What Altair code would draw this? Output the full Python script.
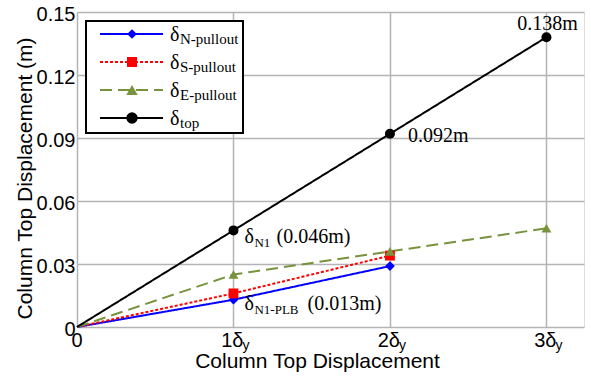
import altair as alt
import pandas as pd

# ---------------- data ----------------
series_names = ["N-pullout", "S-pullout", "E-pullout", "top"]
series_colors = ["#0000ff", "#ff0000", "#77933c", "#000000"]
series_dashes = [[1, 0], [3, 2], [12, 6], [1, 0]]
series_shapes = ["diamond", "square", "triangle-up", "circle"]
series_sizes = [95, 100, 130, 130]

drift_levels = [0, 1, 2, 3]
n_pullout = [0.0, 0.013, 0.029]
s_pullout = [0.0, 0.016, 0.034]
e_pullout = [0.0, 0.025, 0.036, 0.047]
top_disp = [0.0, 0.046, 0.092, 0.138]

x_tick_values = [0, 1, 2, 3]
x_tick_main = ["0", "1δ", "2δ", "3δ"]
x_tick_sub = ["", "y", "y", "y"]
y_ticks = [0, 0.03, 0.06, 0.09, 0.12, 0.15]

ann_x = [3, 2, 1, 1]
ann_y = [0.138, 0.092, 0.046, 0.013]
ann_main = ["0.138m", "0.092m", "δ", "δ"]
ann_sub = ["", "", "N1", "N1-PLB"]
ann_tail = ["", "", "(0.046m)", "(0.013m)"]

SANS = "Liberation Sans"
SERIF = "Liberation Serif"

rows = []
for name, vals in zip(series_names, [n_pullout, s_pullout, e_pullout, top_disp]):
    for i, v in enumerate(vals):
        rows.append({"series": name, "level": drift_levels[i], "disp": v})
df = pd.DataFrame(rows)

W, H = 507, 315
xscale = alt.Scale(domain=[0, 3.24], nice=False, zero=False)
yscale = alt.Scale(domain=[0, 0.15], nice=False)

color = alt.Color("series:N", scale=alt.Scale(domain=series_names, range=series_colors), legend=None)
dash = alt.StrokeDash("series:N", scale=alt.Scale(domain=series_names, range=series_dashes), legend=None)
shape = alt.Shape("series:N", scale=alt.Scale(domain=series_names, range=series_shapes), legend=None)
size = alt.Size("series:N", scale=alt.Scale(domain=series_names, range=series_sizes), legend=None)

base = alt.Chart(df)

xaxis = alt.Axis(values=x_tick_values, labels=False, ticks=False, domain=False,
                 grid=True, gridColor="#b4b4b4", gridWidth=1.5,
                 title="Column Top Displacement", titleFont=SANS, titleFontSize=21,
                 titleFontWeight="normal", titleColor="black",
                 titleX=240, titleY=40, titleAlign="center", titleBaseline="alphabetic")
yaxis = alt.Axis(values=y_ticks, ticks=False, domain=False, grid=True,
                 gridColor="#b4b4b4", gridWidth=1.5,
                 labelFont=SANS, labelFontSize=20, labelColor="black", labelPadding=2,
                 labelOffset=2,
                 labelFlush=False, labelOverlap=False, labelBaseline="middle",
                 labelExpr="datum.value == 0 ? '0\u00a0' : format(datum.value, '.2f')",
                 title="Column Top Displacement (m)", titleFont=SANS, titleFontSize=21,
                 titleFontWeight="normal", titleColor="black",
                 titleX=-46, titleY=166, titleAlign="center", titleBaseline="alphabetic")

lines = base.mark_line(strokeWidth=2).encode(
    x=alt.X("level:Q", scale=xscale, axis=xaxis),
    y=alt.Y("disp:Q", scale=yscale, axis=yaxis),
    color=color, strokeDash=dash, detail="series:N",
    order="level:Q",
)
points = base.transform_filter("datum.level > 0").mark_point(
    filled=True, opacity=1, strokeWidth=0).encode(
    x=alt.X("level:Q", scale=xscale),
    y=alt.Y("disp:Q", scale=yscale),
    color=color, shape=shape, size=size,
)

# x tick labels with subscript
tick_df = pd.DataFrame({"x": x_tick_values, "main": x_tick_main, "sub": x_tick_sub,
                        "y": [0] * len(x_tick_values)})
tick_base = alt.Chart(tick_df)
tick_zero = tick_base.transform_filter("datum.sub == ''").mark_text(
    font=SANS, fontSize=20, align="center", baseline="alphabetic", dy=20, color="black"
).encode(x=alt.X("x:Q", scale=xscale), y=alt.Y("y:Q", scale=yscale), text="main:N")
tick_main = tick_base.transform_filter("datum.sub != ''").mark_text(
    font=SANS, fontSize=20, align="right", baseline="alphabetic", dx=10, dy=20, color="black"
).encode(x=alt.X("x:Q", scale=xscale), y=alt.Y("y:Q", scale=yscale), text="main:N")
tick_sub = tick_base.transform_filter("datum.sub != ''").mark_text(
    font=SANS, fontSize=14, align="left", baseline="alphabetic", dx=9, dy=23, color="black"
).encode(x=alt.X("x:Q", scale=xscale), y=alt.Y("y:Q", scale=yscale), text="sub:N")

# annotations
ann_df = pd.DataFrame({"x": ann_x, "y": ann_y, "main": ann_main, "sub": ann_sub, "tail": ann_tail})
ann_layout = [
    # (main align, main dx, main dy, sub dx, sub dy, tail dx)
    ("center", 1, -7, 0, 0, 0),
    ("left", 18, 8, 0, 0, 0),
    ("left", 11, 13, 21, 17, 43),
    ("left", 11, 10, 21, 14, 74),
]
ann_layers = []
for i, (al, mdx, mdy, sdx, sdy, tdx) in enumerate(ann_layout):
    one = alt.Chart(ann_df.iloc[[i]])
    enc = dict(x=alt.X("x:Q", scale=xscale), y=alt.Y("y:Q", scale=yscale))
    ann_layers.append(one.mark_text(font=SERIF, fontSize=20, align=al, baseline="alphabetic",
                                    dx=mdx, dy=mdy, color="black").encode(text="main:N", **enc))
    if ann_sub[i]:
        ann_layers.append(one.mark_text(font=SERIF, fontSize=13, align="left", baseline="alphabetic",
                                        dx=sdx, dy=sdy, color="black").encode(text="sub:N", **enc))
        ann_layers.append(one.mark_text(font=SERIF, fontSize=20, align="left", baseline="alphabetic",
                                        dx=tdx, dy=mdy, color="black").encode(text="tail:N", **enc))

# legend (drawn in pixel space)
leg_df = pd.DataFrame({"k": [0]})
leg = alt.Chart(leg_df)
legend_layers = [
    leg.mark_rect(fill="white", stroke="black", strokeWidth=2).encode(
        x=alt.value(86 - 77), x2=alt.value(243 - 77), y=alt.value(21 - 12), y2=alt.value(133 - 12))
]
row_y = [34 - 12, 62 - 12, 90 - 12, 118 - 12]
for i, name in enumerate(series_names):
    ry = row_y[i]
    legend_layers.append(leg.mark_rule(color=series_colors[i], strokeWidth=2,
                                       strokeDash=series_dashes[i]).encode(
        x=alt.value(100 - 77), x2=alt.value(163 - 77), y=alt.value(ry)))
    legend_layers.append(leg.mark_point(filled=True, opacity=1, strokeWidth=0,
                                        shape=series_shapes[i], size=series_sizes[i],
                                        color=series_colors[i]).encode(
        x=alt.value(132 - 77), y=alt.value(ry)))
    legend_layers.append(leg.mark_text(font=SERIF, fontSize=20, align="left", baseline="alphabetic",
                                       color="black", text="δ").encode(
        x=alt.value(170 - 77), y=alt.value(ry + 7)))
    legend_layers.append(leg.mark_text(font=SERIF, fontSize=15, align="left", baseline="alphabetic",
                                       color="black", text=name).encode(
        x=alt.value(180 - 77), y=alt.value(ry + 10)))

chart = alt.layer(
    lines, points, tick_zero, tick_main, tick_sub, *ann_layers, *legend_layers
).properties(
    width=W, height=H,
    autosize=alt.AutoSizeParams(type="none"),
    padding={"left": 77, "top": 12, "right": 7, "bottom": 49},
).configure_view(
    stroke="black", strokeWidth=2.5
).configure(background="white")

chart.save("out.html", embed_options={"renderer": "svg", "actions": False})
